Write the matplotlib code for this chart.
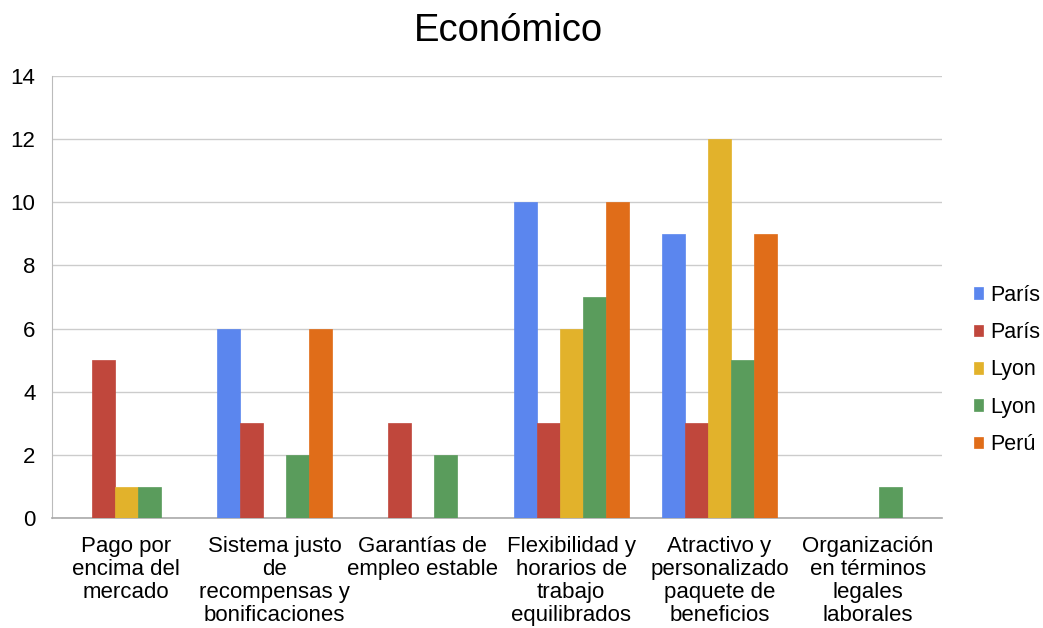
import numpy as np
import matplotlib
matplotlib.use("Agg")
import matplotlib.pyplot as plt

plt.rcParams['font.family'] = ['Liberation Sans', 'DejaVu Sans']

categorias = ["Pago por\nencima del\nmercado",
              "Sistema justo\nde\nrecompensas y\nbonificaciones",
              "Garantías de\nempleo estable",
              "Flexibilidad y\nhorarios de\ntrabajo\nequilibrados",
              "Atractivo y\npersonalizado\npaquete de\nbeneficios",
              "Organización\nen términos\nlegales\nlaborales"]

series = ["París", "París", "Lyon", "Lyon", "Perú"]
paris_1 = [0, 6, 0, 10, 9, 0]
paris_2 = [5, 3, 3, 3, 3, 0]
lyon_1 = [1, 0, 0, 6, 12, 0]
lyon_2 = [1, 2, 2, 7, 5, 1]
peru = [0, 6, 0, 10, 9, 0]
valores = [paris_1, paris_2, lyon_1, lyon_2, peru]
colores = ["#5B86EE", "#C0473C", "#E2B22B", "#5A9C5C", "#E06D19"]

fig = plt.figure(figsize=(10.43, 6.28), dpi=100)
ax = fig.add_axes([0.05, 0.175, 0.853, 0.704])

x = np.arange(len(categorias))
ancho = 0.155
for i, (nombre, vals, c) in enumerate(zip(series, valores, colores)):
    ax.bar(x + (i - 2) * ancho, vals, ancho, color=c, label=nombre,
           edgecolor=c, linewidth=0.5, zorder=3)

ax.set_xlim(-0.5, len(categorias) - 0.5)
ax.set_ylim(0, 14)
ax.set_yticks(range(0, 15, 2))
ax.yaxis.grid(True, color="#cccccc", linewidth=1, zorder=0)
for s in ["top", "right"]:
    ax.spines[s].set_visible(False)
ax.spines["left"].set_color("#bbbbbb")
ax.spines["bottom"].set_color("#aaaaaa")
ax.spines["bottom"].set_linewidth(1.2)
ax.tick_params(axis="both", length=0, labelsize=16)
ax.tick_params(axis="x", pad=13)
ax.tick_params(axis="y", pad=12)
ax.set_xticks(x)
ax.set_xticklabels(categorias, linespacing=1.12)

fig.suptitle("Económico", fontsize=27.5, x=0.487, y=0.95, va="center")

leg = ax.legend(loc="center left", bbox_to_anchor=(1.014, 0.335), frameon=False,
                fontsize=15.5, handlelength=0.45, handleheight=0.45,
                handletextpad=0.3, labelspacing=0.76)

fig.savefig("out.png", dpi=100)
